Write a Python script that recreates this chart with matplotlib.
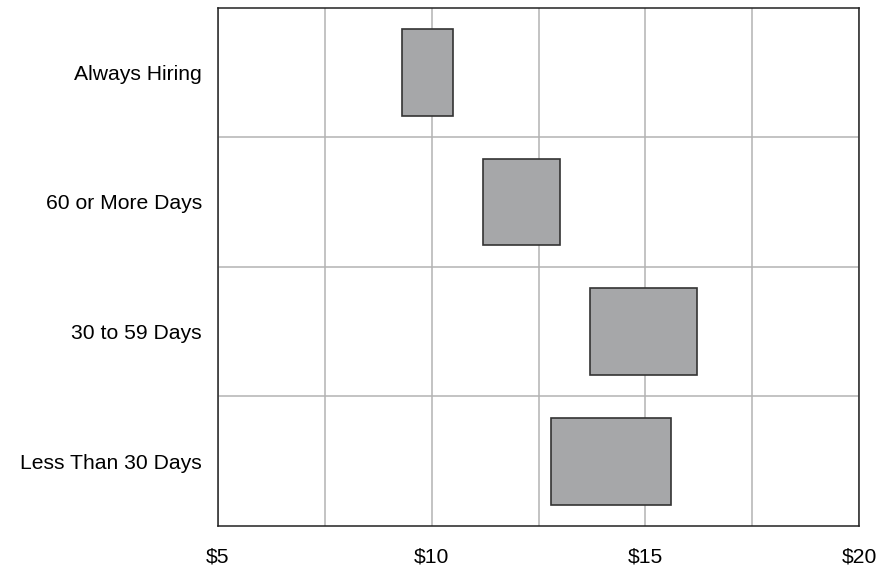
import matplotlib
matplotlib.use("Agg")
import matplotlib.pyplot as plt

categories = ["Less Than 30 Days", "30 to 59 Days", "60 or More Days", "Always Hiring"]
low = [12.8, 13.7, 11.2, 9.3]
high = [15.6, 16.2, 13.0, 10.5]
xticks = [5, 7.5, 10, 12.5, 15, 17.5, 20]
xticklabels = ["$5", "", "$10", "", "$15", "", "$20"]

plt.rcParams['font.family'] = ['Liberation Sans', 'DejaVu Sans']
fig = plt.figure(figsize=(8.92, 5.68), dpi=100)
ax = fig.add_axes([218/892, 1-526/568, (859-218)/892, (526-7.5)/568])

ypos = list(range(len(categories)))
widths = [h - l for l, h in zip(low, high)]
ax.barh(ypos, widths, left=low, height=0.67, color="#a6a7a9",
        edgecolor="#333333", linewidth=1.2, zorder=3)

ax.set_xlim(5, 20)
ax.set_ylim(-0.5, len(categories) - 0.5)
ax.set_xticks(xticks)
ax.set_xticklabels(xticklabels)
ax.set_yticks(ypos)
ax.set_yticklabels(categories)
ax.set_yticks([i + 0.5 for i in ypos[:-1]], minor=True)
ax.tick_params(axis='both', which='both', length=0, labelsize=15.2, colors='black')
ax.tick_params(axis='x', pad=15.5)
ax.tick_params(axis='y', pad=11.5)
ax.grid(axis='x', which='major', color="#b3b3b3", linewidth=1.1, zorder=0)
ax.grid(axis='y', which='minor', color="#b3b3b3", linewidth=1.1, zorder=0)
ax.grid(axis='y', which='major', visible=False)
for s in ax.spines.values():
    s.set_color("#222222")
    s.set_linewidth(1.1)

fig.savefig("out.png", dpi=100)
